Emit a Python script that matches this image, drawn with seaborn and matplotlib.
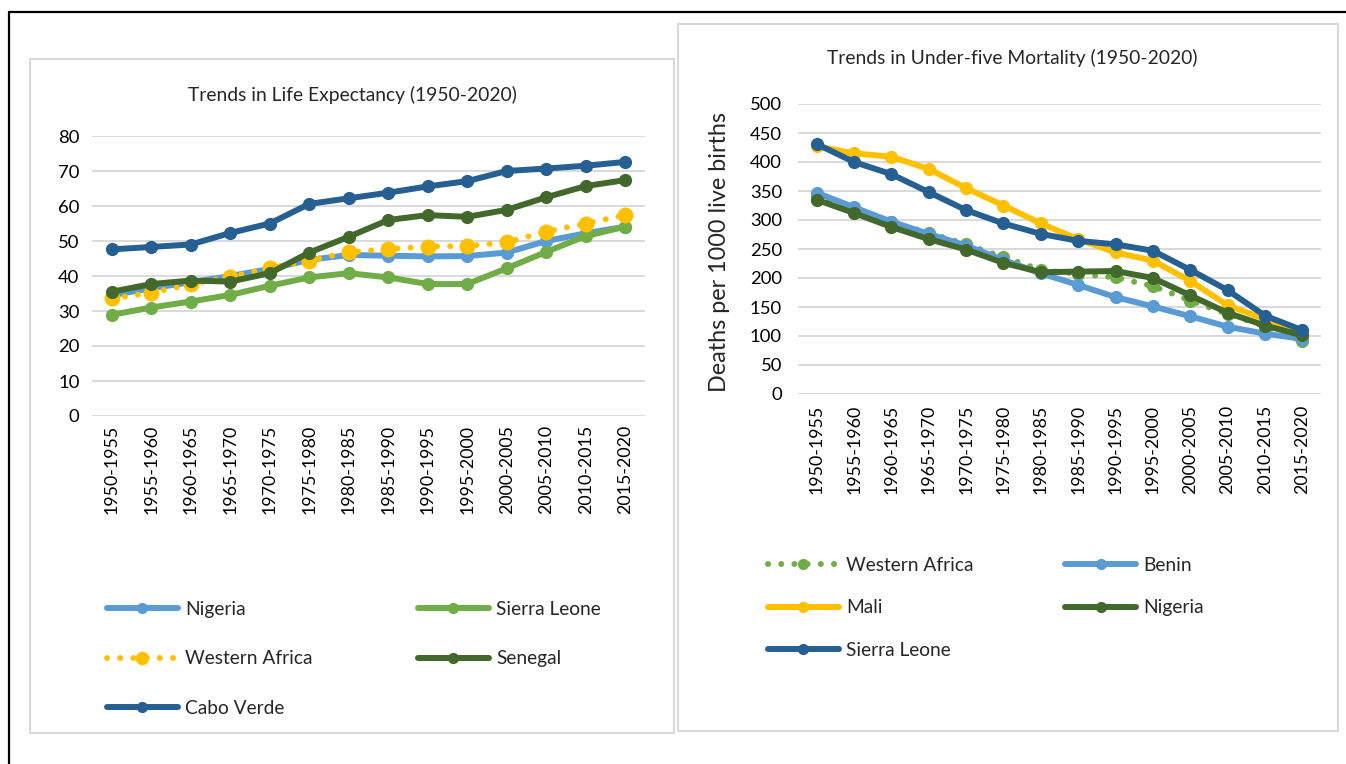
import matplotlib
matplotlib.use("Agg")
import matplotlib.pyplot as plt
import seaborn as sns
import pandas as pd
from matplotlib.patches import Rectangle
from matplotlib.lines import Line2D

# ---------------- data ----------------
periods = ["1950-1955", "1955-1960", "1960-1965", "1965-1970", "1970-1975",
           "1975-1980", "1980-1985", "1985-1990", "1990-1995", "1995-2000",
           "2000-2005", "2005-2010", "2010-2015", "2015-2020"]

# Life expectancy (years)
le_nigeria = [34.5, 36.5, 38.2, 40.0, 42.0, 44.6, 46.0, 45.8, 45.6, 45.7, 46.7, 50.0, 52.2, 54.1]
le_sierra_leone = [28.9, 31.0, 32.7, 34.6, 37.2, 39.6, 40.8, 39.6, 37.7, 37.7, 42.2, 46.9, 51.4, 54.1]
le_western_africa = [33.6, 35.2, 37.6, 39.8, 42.2, 44.4, 46.8, 47.7, 48.4, 48.6, 49.6, 52.7, 55.0, 57.4]
le_senegal = [35.5, 37.7, 38.7, 38.4, 40.8, 46.7, 51.2, 56.0, 57.4, 56.9, 58.9, 62.5, 65.7, 67.4]
le_cabo_verde = [47.6, 48.3, 49.0, 52.3, 55.0, 60.6, 62.2, 63.8, 65.6, 67.1, 70.0, 70.7, 71.5, 72.6]

# Under-five mortality (deaths per 1000 live births)
u5_western_africa = [340, 318, 296, 278, 258, 236, 214, 207, 201, 186, 161, 138, 117, 91]
u5_benin = [347, 322, 297, 276, 256, 231, 208, 188, 167, 151, 134, 116, 104, 95]
u5_mali = [427, 415, 409, 388, 355, 325, 294, 267, 244, 230, 195, 153, 129, 102]
u5_nigeria = [335, 312, 288, 267, 249, 226, 210, 211, 212, 200, 170, 140, 118, 101]
u5_sierra_leone = [431, 400, 379, 348, 317, 294, 276, 264, 258, 247, 214, 179, 135, 110]

left_title = "Trends in Life Expectancy (1950-2020)"
right_title = "Trends in Under-five Mortality (1950-2020)"
right_ylabel = "Deaths per 1000 live births"

# ---------------- style ----------------
LIGHT_BLUE = "#5B9BD5"
LIGHT_GREEN = "#70AD47"
YELLOW = "#FFC000"
DARK_GREEN = "#43682B"
DARK_BLUE = "#265F91"
GRID = "#D9D9D9"

sns.set_theme(style="white")
plt.rcParams["font.family"] = ["Lato", "DejaVu Sans"]

W, H = 1346, 764
fig = plt.figure(figsize=(W / 100, H / 100), dpi=100)


def fx(x):
    return x / W


def fy(y):
    return 1 - y / H


def rect(x0, y0, x1, y1):
    return [fx(x0), fy(y1), (x1 - x0) / W, (y1 - y0) / H]


# outer frame and panel boxes
fig.add_artist(Line2D([fx(9), fx(1346)], [fy(12), fy(12)], color="black", lw=1.6))
fig.add_artist(Line2D([fx(9), fx(9)], [fy(12), fy(764)], color="black", lw=1.6))
fig.add_artist(Rectangle((fx(30), fy(733)), (674 - 30) / W, (733 - 59) / H,
                         fill=False, edgecolor=GRID, lw=1.5, transform=fig.transFigure))
fig.add_artist(Rectangle((fx(678), fy(731)), (1338 - 678) / W, (731 - 24) / H,
                         fill=False, edgecolor=GRID, lw=1.5, transform=fig.transFigure))

LW = 4.3
MS = 9.5
DOTS = (0, (0.01, 2.2))
TICK_FS = 13.3
XTICK_FS = 12.8
LEG_FS = 13.8


def draw(ax, values, color, label, dotted=False, ms=MS):
    df = pd.DataFrame({"period": periods, "value": values})
    sns.lineplot(data=df, x="period", y="value", ax=ax, color=color, lw=LW,
                 marker="o", markersize=ms, markeredgewidth=0, label=label,
                 sort=False, legend=False)
    ln = ax.get_lines()[-1]
    ln.set_solid_capstyle("round")
    if dotted:
        ln.set_linestyle(DOTS)
        ln.set_dash_capstyle("round")
    return ln


def style_axes(ax, ymax, ystep, ypad, xpad):
    ax.set_xlim(-0.5, len(periods) - 0.5)
    ax.set_ylim(0, ymax)
    ax.set_yticks(range(0, ymax + 1, ystep))
    ax.set_xticks(range(len(periods)))
    ax.set_xticklabels(periods, rotation=90, fontsize=XTICK_FS, color="black")
    ax.tick_params(axis="y", length=0, pad=ypad, labelsize=TICK_FS, labelcolor="black")
    ax.tick_params(axis="x", length=0, pad=xpad)
    ax.yaxis.grid(True, color=GRID, lw=1.4)
    ax.set_axisbelow(True)
    for s in ax.spines.values():
        s.set_visible(False)
    ax.set_xlabel("")
    ax.set_ylabel("")
    ax.patch.set_alpha(0)


leg_kw = dict(ncol=2, loc="upper left", frameon=False, fontsize=LEG_FS,
              handlelength=3.7, handletextpad=0.38, borderpad=0, numpoints=1,
              markerscale=0.85)

# ---------------- left chart ----------------
axL = fig.add_axes(rect(92, 136, 645, 416))
h_ng = draw(axL, le_nigeria, LIGHT_BLUE, "Nigeria")
h_sl = draw(axL, le_sierra_leone, LIGHT_GREEN, "Sierra Leone")
h_wa = draw(axL, le_western_africa, YELLOW, "Western Africa", dotted=True, ms=11.5)
h_sn = draw(axL, le_senegal, DARK_GREEN, "Senegal")
h_cv = draw(axL, le_cabo_verde, DARK_BLUE, "Cabo Verde")
style_axes(axL, 80, 10, 9, 6.5)
fig.text(fx(352), fy(95), left_title, ha="center", va="center", fontsize=13.9)

fig.legend([h_ng, h_wa, h_cv, h_sl, h_sn],
           ["Nigeria", "Western Africa", "Cabo Verde", "Sierra Leone", "Senegal"],
           bbox_to_anchor=(fx(97), fy(591)), columnspacing=5.5, labelspacing=1.71,
           **leg_kw)

# ---------------- right chart ----------------
axR = fig.add_axes(rect(798, 104, 1321, 394))
r_wa = draw(axR, u5_western_africa, LIGHT_GREEN, "Western Africa", dotted=True)
r_bn = draw(axR, u5_benin, LIGHT_BLUE, "Benin")
r_ml = draw(axR, u5_mali, YELLOW, "Mali")
r_ng = draw(axR, u5_nigeria, DARK_GREEN, "Nigeria")
r_sl = draw(axR, u5_sierra_leone, DARK_BLUE, "Sierra Leone")
style_axes(axR, 500, 50, 11.5, 8)
fig.text(fx(1012), fy(58), right_title, ha="center", va="center", fontsize=13.9)
fig.text(fx(720), fy(252), right_ylabel, ha="center", va="center", rotation=90, fontsize=16.8)

fig.legend([r_wa, r_ml, r_sl, r_bn, r_ng],
           ["Western Africa", "Mali", "Sierra Leone", "Benin", "Nigeria"],
           bbox_to_anchor=(fx(758), fy(547)), columnspacing=4.8, labelspacing=1.34,
           **leg_kw)

fig.savefig("out.png", dpi=100)
